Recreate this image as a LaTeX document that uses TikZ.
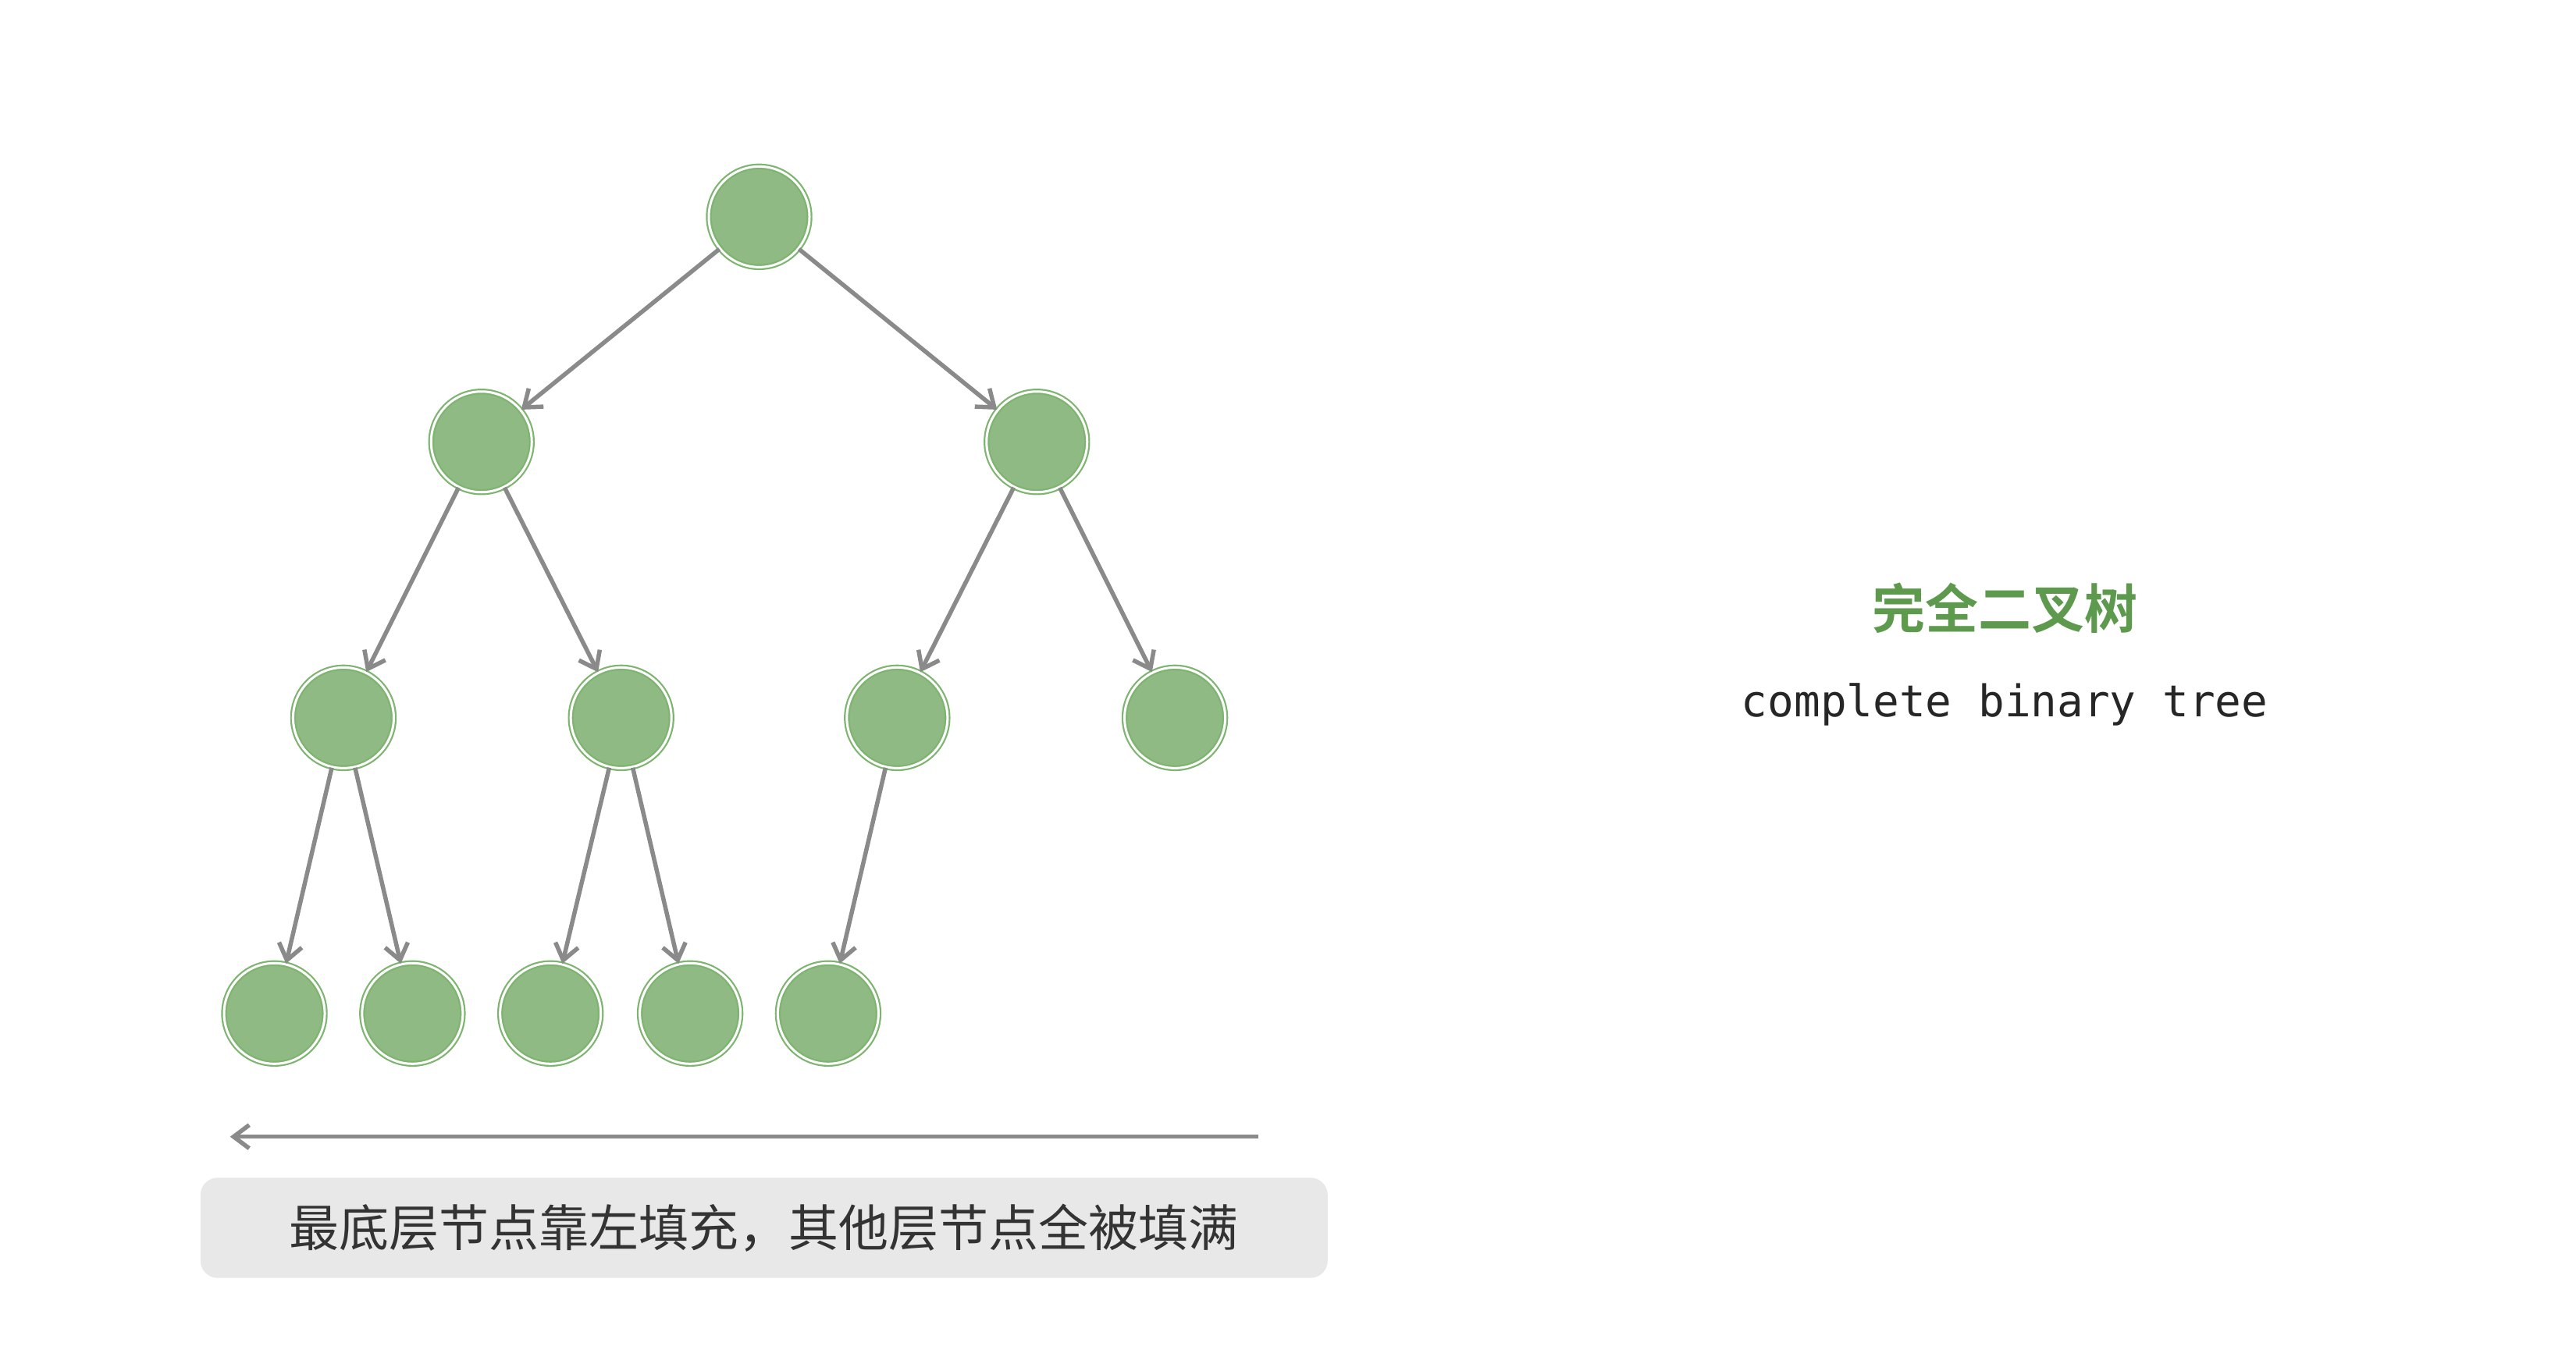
\documentclass[tikz,border=0pt]{standalone}
\usepackage{fontspec}
\newfontfamily\cjk{Noto Sans CJK SC}
\newfontfamily\cjkb{Noto Sans CJK SC Bold}
\setmonofont{DejaVu Sans Mono}
\usetikzlibrary{arrows.meta}
\definecolor{ng}{HTML}{8FBA83}
\definecolor{nr}{HTML}{7DB46F}
\definecolor{eg}{HTML}{8A8A8A}
\definecolor{bx}{HTML}{E8E8E8}
\definecolor{tg}{HTML}{5E9A4E}
\begin{document}
\begin{tikzpicture}[x=2.105pt,y=-2.105pt,
  tn/.style={circle,minimum size=129pt,inner sep=0pt,fill=ng,draw=nr,double=white,double distance=3pt,line width=2.2pt},
  ed/.style={draw=eg,line width=5.5pt,-{Straight Barb[length=20pt,width=30pt,line width=5.5pt]}}]
\useasboundingbox (0,0) rectangle (1567.7,830.4);
\node[tn] (r) at (462,132) {};
\node[tn] (a) at (293,269) {};
\node[tn] (b) at (631,269) {};
\node[tn] (c) at (209,437) {};
\node[tn] (d) at (378,437) {};
\node[tn] (e) at (546,437) {};
\node[tn] (f) at (715,437) {};
\node[tn] (g) at (167,617) {};
\node[tn] (h) at (251,617) {};
\node[tn] (i) at (335,617) {};
\node[tn] (j) at (420,617) {};
\node[tn] (k) at (504,617) {};
\foreach \p/\q in {r/a,r/b,a/c,a/d,b/e,b/f,c/g,c/h,d/i,d/j,e/k}
  \draw[ed] (\p) -- (\q);
\coordinate (s) at (766,692);
\coordinate (t) at (140,692);
\draw[ed] (s) -- (t);
\node[fill=bx,rounded corners=22pt,minimum width=686*2.105pt,minimum height=61*2.105pt,inner sep=0pt] (lab) at (465,747.5)
  {\cjk\fontsize{64pt}{70pt}\selectfont\color{black!80}最底层节点靠左填充，其他层节点全被填满};
\node[text=tg] (title) at (1220,370) {\cjkb\fontsize{68pt}{74pt}\selectfont 完全二叉树};
\node[text=black!85] (sub) at (1220,429) {\ttfamily\fontsize{56pt}{62pt}\selectfont complete binary tree};
\end{tikzpicture}
\end{document}
